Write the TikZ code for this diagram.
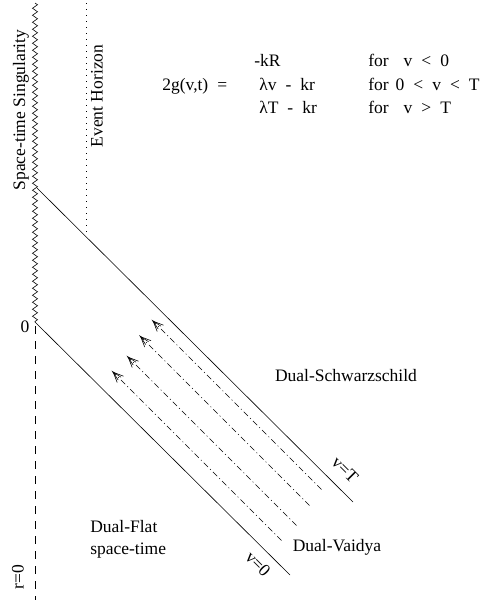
\documentclass[tikz,border=0pt]{standalone}
\usepackage{fontspec}
\setmainfont{Liberation Serif}
\usetikzlibrary{arrows.meta,decorations.pathmorphing}
\newcommand{\widesp}{\spaceskip=9pt\relax}

\begin{document}
\begin{tikzpicture}[x=1pt,y=-1pt,line width=0.6pt,
  every node/.style={font=\fontsize{17.5}{22}\selectfont,inner sep=0pt},
  eq/.style={anchor=base west},
  wavy/.style={decorate,decoration={zigzag,segment length=7pt,amplitude=2.5pt}},
  ray/.style={dash pattern=on 6pt off 3pt on 1pt off 3pt,
    -{Straight Barb[length=10pt,width=9pt,sep=-10pt]Straight Barb[length=10pt,width=4pt]}}]
\useasboundingbox (0,0) rectangle (485,600);

\coordinate (ST) at (35,3);
\coordinate (O) at (35,322);
\coordinate (RB) at (35,600);
\coordinate (TS) at (37,188);
\coordinate (TE) at (353,502);
\coordinate (ZE) at (290,575);
\coordinate (HT) at (86,3);
\coordinate (HB) at (86,236);

\draw[wavy] (ST) -- (O);
\draw[dash pattern=on 8pt off 7pt] (35,326) -- (RB);
\draw[dash pattern=on 1pt off 5pt] (HT) -- (HB);
\draw (TS) -- (TE);
\draw (O) -- (ZE);

\draw[ray] (281.5,540.5) -- (111.5,370.5);
\draw[ray] (296.5,525.5) -- (126.5,355.5);
\draw[ray] (309.5,505.5) -- (139,335);
\draw[ray] (321.5,489.5) -- (151.5,319.5);

\node (zero) at (25,327) {0};
\node[rotate=90] (rzero) at (18,577) {r=0};
\node[rotate=90] (sing) at (21,110) {Space-time Singularity};
\node[rotate=90] (hor) at (97,96) {Event Horizon};
\node[rotate=-45] (vT) at (345,470) {v=T};
\node[rotate=-45] (v0) at (258,564) {v=0};
\node (schw) at (346,376) {Dual-Schwarzschild};
\node (vaid) at (337,547) {Dual-Vaidya};
\node[anchor=west,align=left] (flat) at (90,539) {Dual-Flat\\space-time};

\node[eq] (g) at (162,90) {\widesp 2g(v,t) =};
\node[eq] (c1) at (254,66) {\widesp -kR};
\node[eq] (c2) at (259,90) {\widesp λv - kr};
\node[eq] (c3) at (259,113) {\widesp λT - kr};
\node[eq] (f1) at (368,66) {\widesp for\hspace{15pt}v < 0};
\node[eq] (f2) at (368,90) {\widesp for\hspace{7pt}0 < v < T};
\node[eq] (f3) at (368,113) {\widesp for\hspace{15pt}v > T};
\end{tikzpicture}
\end{document}
